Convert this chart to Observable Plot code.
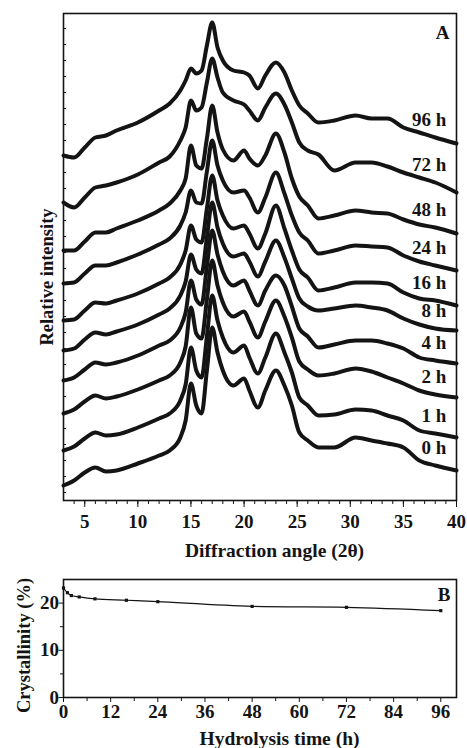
<!DOCTYPE html>
<html><head><meta charset="utf-8">
<script src="https://cdn.jsdelivr.net/npm/d3@7"></script>
<script src="https://cdn.jsdelivr.net/npm/@observablehq/plot@0.6"></script>
<style>
body{margin:0;background:#fff;}
#chart{width:467px;height:748px;position:relative;background:#fff;}
svg{display:block}
</style></head><body><div id="chart"></div>
<script>
// ---- Panel A: XRD patterns (relative intensity, arbitrary units, stacked) ----
const angles = [3, 4, 5, 6, 7, 8, 10, 12, 13, 14, 14.5, 15, 15.5, 16, 16.5, 17, 17.5, 18, 19, 20, 20.5, 21.3, 22, 23, 23.8, 24.5, 25.2, 26, 27, 28.5, 30.5, 32, 33.5, 35, 36.5, 38, 40];
const seriesNames = ["0 h", "1 h", "2 h", "4 h", "8 h", "16 h", "24 h", "48 h", "72 h", "96 h"];
const xrd0h  = [15, 20, 28, 33, 29, 30, 37, 45, 50, 63, 80, 117, 95, 87, 130, 173, 148, 130, 115, 122, 110, 93, 110, 130, 115, 95, 68, 60, 53, 53, 63, 60, 57, 53, 40, 35, 30];
const xrd1h  = [50, 54, 62, 68, 65, 66, 73, 82, 87, 100, 116, 153, 130, 123, 164, 205, 180, 163, 148, 155, 143, 127, 143, 167, 148, 128, 103, 95, 85, 86, 91, 90, 85, 80, 70, 67, 63];
const xrd2h  = [87, 91, 99, 105, 102, 104, 111, 120, 125, 138, 154, 193, 167, 162, 201, 240, 215, 198, 184, 189, 179, 163, 179, 200, 184, 163, 139, 131, 125, 127, 132, 129, 123, 117, 110, 106, 103];
const xrd4h  = [120, 123, 131, 138, 136, 138, 145, 155, 160, 173, 188, 220, 201, 196, 234, 270, 246, 229, 215, 220, 210, 195, 210, 225, 215, 194, 172, 164, 153, 156, 160, 160, 157, 152, 143, 140, 137];
const xrd8h  = [150, 152, 161, 168, 166, 169, 176, 186, 192, 205, 219, 246, 231, 227, 263, 298, 273, 257, 244, 247, 239, 224, 239, 260, 243, 222, 202, 194, 190, 192, 195, 193, 190, 182, 176, 172, 170];
const xrd16h = [180, 181, 190, 198, 197, 200, 207, 217, 223, 236, 250, 275, 261, 258, 292, 325, 300, 285, 272, 275, 267, 252, 267, 295, 272, 250, 231, 223, 210, 213, 218, 218, 217, 208, 202, 200, 195];
const xrd24h = [217, 218, 227, 235, 235, 238, 246, 256, 262, 275, 288, 310, 298, 297, 329, 360, 335, 320, 308, 310, 303, 288, 303, 328, 307, 285, 268, 260, 247, 250, 255, 254, 253, 245, 239, 235, 230];
const xrd48h = [250, 250, 259, 268, 268, 272, 280, 290, 297, 310, 322, 355, 335, 332, 362, 395, 368, 351, 340, 350, 342, 335, 345, 367, 348, 322, 304, 295, 282, 285, 290, 288, 287, 281, 276, 273, 267];
const xrd72h = [298, 293, 303, 313, 315, 318, 326, 338, 344, 360, 373, 400, 390, 393, 418, 442, 423, 408, 400, 396, 390, 380, 393, 407, 396, 378, 358, 350, 346, 330, 338, 338, 334, 328, 323, 318, 308];
const xrd96h = [345, 343, 353, 363, 365, 370, 378, 390, 397, 410, 420, 432, 427, 430, 455, 478, 453, 440, 430, 428, 425, 412, 425, 438, 428, 410, 395, 387, 378, 380, 385, 382, 382, 373, 368, 363, 357];
const xrdSeries = [xrd0h, xrd1h, xrd2h, xrd4h, xrd8h, xrd16h, xrd24h, xrd48h, xrd72h, xrd96h];
const angleTicks = [5, 10, 15, 20, 25, 30, 35, 40];
const labelAngle = 38;

// ---- Panel B: crystallinity vs hydrolysis time ----
const hydrolysisHours = [0, 1, 2, 4, 8, 16, 24, 48, 72, 96];
const crystallinity = [23.2, 22.2, 21.6, 21.3, 20.9, 20.6, 20.3, 19.3, 19.1, 18.4];
const hourTicks = [0, 12, 24, 36, 48, 60, 72, 84, 96];
const crystTicks = [0, 10, 20];

const font = "'Liberation Serif', 'Times New Roman', serif";
const ink = "#141414";

const rows = [];
xrdSeries.forEach((arr, s) => arr.forEach((v, i) => rows.push({angle: angles[i], value: v, series: seriesNames[s]})));

const textStyle = {fontFamily: font, fontWeight: "bold", fill: ink};

const plotA = Plot.plot({
  width: 467, height: 565,
  marginTop: 13, marginLeft: 63, marginRight: 11, marginBottom: 65,
  style: {fontFamily: font, fontWeight: "bold", fontSize: "19px", color: ink, background: "#fff", overflow: "visible"},
  x: {domain: [3, 40], label: null},
  y: {domain: [0, 487], label: null},
  marks: [
    Plot.line(rows, {x: "angle", y: "value", z: "series", stroke: ink, strokeWidth: 4, curve: "monotone-x"}),
    Plot.frame({stroke: ink, strokeWidth: 1.6}),
    Plot.text(rows.filter(d => d.angle === labelAngle), {x: "angle", y: "value", text: "series", textAnchor: "end", dx: 11, dy: -18, fontSize: 19, ...textStyle}),
    Plot.axisX({ticks: d3.range(4, 41, 1), tickSize: 4, tickFormat: () => "", stroke: ink}),
    Plot.axisX({ticks: angleTicks, tickSize: 7, tickPadding: 7, fontSize: 19, ...textStyle, stroke: ink}),
    Plot.axisY({ticks: d3.range(8, 487, 16), tickSize: 3, dx: 3, tickFormat: () => "", stroke: ink}),
    Plot.text(["A"], {frameAnchor: "top-right", dx: -7, dy: 19, textAnchor: "end", lineAnchor: "middle", fontSize: 19, ...textStyle}),
    Plot.text(["Diffraction angle (2θ)"], {frameAnchor: "bottom", dx: 14.5, dy: 50, textAnchor: "middle", lineAnchor: "middle", fontSize: 19.5, ...textStyle}),
    Plot.text(["Relative intensity"], {frameAnchor: "left", dx: -16, dy: 20, rotate: -90, textAnchor: "middle", lineAnchor: "middle", fontSize: 18.5, ...textStyle})
  ]
});

const bRows = hydrolysisHours.map((h, i) => ({hour: h, value: crystallinity[i]}));

const plotB = Plot.plot({
  width: 467, height: 183,
  marginTop: 14, marginLeft: 63, marginRight: 11, marginBottom: 51,
  style: {fontFamily: font, fontWeight: "bold", fontSize: "19px", color: ink, background: "#fff", overflow: "visible"},
  x: {domain: [0, 100], label: null},
  y: {domain: [0, 25], label: null},
  marks: [
    Plot.frame({stroke: ink, strokeWidth: 1.6}),
    Plot.line(bRows, {x: "hour", y: "value", stroke: ink, strokeWidth: 1.2, curve: "catmull-rom"}),
    Plot.dot(bRows, {x: "hour", y: "value", symbol: "square", r: 1.8, fill: ink, stroke: "none"}),
    Plot.axisX({ticks: d3.range(6, 97, 12), tickSize: 4, tickFormat: () => "", stroke: ink}),
    Plot.axisX({ticks: hourTicks, tickSize: 5, tickPadding: 2, fontSize: 19, ...textStyle, stroke: ink}),
    Plot.axisY({ticks: [5, 15], tickSize: 3, tickFormat: () => "", stroke: ink}),
    Plot.axisY({ticks: crystTicks, tickSize: 4.5, tickPadding: 0, fontSize: 19, ...textStyle, stroke: ink}),
    Plot.text(["B"], {frameAnchor: "top-right", dx: -6, dy: 15, textAnchor: "end", lineAnchor: "middle", fontSize: 19, ...textStyle}),
    Plot.text(["Hydrolysis time (h)"], {frameAnchor: "bottom", dx: 19.5, dy: 41, textAnchor: "middle", lineAnchor: "middle", fontSize: 19.5, ...textStyle}),
    Plot.text(["Crystallinity (%)"], {frameAnchor: "left", dx: -39, dy: 7, rotate: -90, textAnchor: "middle", lineAnchor: "middle", fontSize: 18.5, ...textStyle})
  ]
});

const chart = document.getElementById("chart");
chart.appendChild(plotA);
chart.appendChild(plotB);
</script></body></html>
